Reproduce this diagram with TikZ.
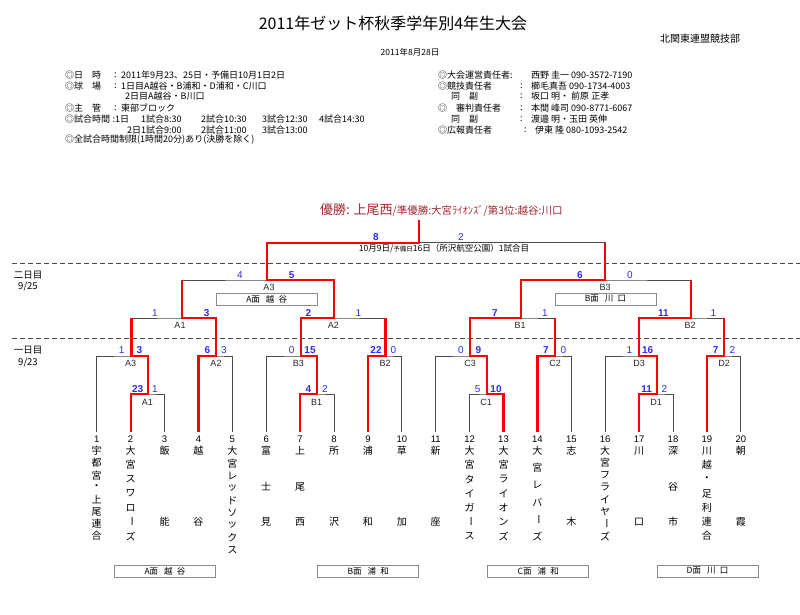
\documentclass[tikz,border=0pt]{standalone}
\usepackage{fontspec}
\setmainfont{Noto Sans CJK JP}
\newfontfamily\lat{Liberation Sans}
\usetikzlibrary{calc}
\definecolor{gl}{HTML}{4A4A4A}
\definecolor{rd}{HTML}{FF0000}
\definecolor{scblue}{HTML}{2B2BFF}
\definecolor{champ}{HTML}{A02830}
\definecolor{boxgray}{HTML}{8A8A8A}
\newcommand\vc{\rotatebox[origin=c]{-90}{ー}}
\newcommand\tname[4]{%
  \foreach \c [count=\k] in {#4} {%
    \pgfmathsetmacro\yy{451+(\k-1)*(#3-451)/(#2-1)}%
    \node[tnm] (n#1-\k) at ({96.7+(#1-1)*33.9},\yy) {\c};
  }}
\tikzset{
  gline/.style={draw=gl, line width=0.9pt},
  rline/.style={draw=rd, line width=2.2pt},
  dline/.style={draw=gl, line width=0.8pt, dash pattern=on 5pt off 3pt},
  score/.style={text=scblue, font=\lat\fontsize{10}{10}\selectfont, inner sep=0pt},
  winsc/.style={text=scblue, font=\lat\bfseries\fontsize{10}{10}\selectfont, inner sep=0pt},
  lbl/.style={font=\lat\fontsize{9}{9}\selectfont, text=black!85, inner sep=0pt},
  venue/.style={draw=boxgray, line width=0.8pt, minimum width=101pt, minimum height=12pt, inner sep=0pt, font=\fontsize{8.5}{8.5}\selectfont},
  tnm/.style={font=\fontsize{10}{10}\selectfont, inner sep=0pt},
  tnum/.style={font=\lat\fontsize{9.5}{9.5}\selectfont, inner sep=0pt},
  info/.style={font=\fontsize{9}{9}\selectfont, anchor=west, inner sep=0pt},
  daylbl/.style={font=\fontsize{9.5}{9.5}\selectfont, inner sep=0pt}
}
\begin{document}
\begin{tikzpicture}[x=1pt,y=-1pt]
\useasboundingbox (0,0) rectangle (800,614);

% ---------- header ----------
\node[font=\fontsize{16}{16}\selectfont, inner sep=0pt] (title) at (393,23) {2011年ゼット杯秋季学年別4年生大会};
\node[font=\fontsize{10}{10}\selectfont, inner sep=0pt] (org) at (700,39) {北関東連盟競技部};
\node[font=\fontsize{8.5}{8.5}\selectfont, inner sep=0pt] (date) at (410,52) {2011年8月28日};

\node[info] (l1a) at (65,75) {◎日　時};
\node[info] (l1b) at (114,75) {:};
\node[info] (l1c) at (121,75) {2011年9月23、25日・予備日10月1日2日};
\node[info] (l2a) at (65,86) {◎球　場};
\node[info] (l2b) at (114,86) {:};
\node[info] (l2c) at (121,86) {1日目A越谷・B浦和・D浦和・C川口};
\node[info] (l3c) at (125,96) {2日目A越谷・B川口};
\node[info] (l4a) at (65,108) {◎主　管};
\node[info] (l4b) at (114,108) {:};
\node[info] (l4c) at (121,108) {東部ブロック};
\node[info] (l5a) at (65,119) {◎試合時間};
\node[info] (l5b) at (112.5,119) {:1日};
\node[info] (l5c) at (141,119) {1試合8:30};
\node[info] (l5d) at (201,119) {2試合10:30};
\node[info] (l5e) at (262,119) {3試合12:30};
\node[info] (l5f) at (319,119) {4試合14:30};
\node[info] (l6b) at (127,130) {2日};
\node[info] (l6c) at (141,130) {1試合9:00};
\node[info] (l6d) at (201,130) {2試合11:00};
\node[info] (l6e) at (262,130) {3試合13:00};
\node[info] (l7a) at (65,140) {◎全試合時間制限(1時間20分)あり(決勝を除く)};

\node[info] (r1a) at (438,75) {◎大会運営責任者:};
\node[info] (r1c) at (531,75) {西野 圭一 090-3572-7190};
\node[info] (r2a) at (438,86) {◎競技責任者};
\node[info] (r2b) at (520,86) {:};
\node[info] (r2c) at (531,86) {櫛毛真吾 090-1734-4003};
\node[info] (r3a) at (451,96) {同　副};
\node[info] (r3b) at (520,96) {:};
\node[info] (r3c) at (531,96) {坂口 明・ 前原 正孝};
\node[info] (r4a) at (438,108) {◎　審判責任者};
\node[info] (r4b) at (520,108) {:};
\node[info] (r4c) at (531,108) {本間 峰司 090-8771-6067};
\node[info] (r5a) at (451,119) {同　副};
\node[info] (r5b) at (520,119) {:};
\node[info] (r5c) at (531,119) {渡邉 明・玉田 英伸};
\node[info] (r6a) at (438,130) {◎広報責任者};
\node[info] (r6b) at (524,130) {:};
\node[info] (r6c) at (535,130) {伊東 隆 080-1093-2542};

% ---------- champion line ----------
\node[anchor=west, inner sep=0pt, text=champ] (champ) at (320,210)
  {{\fontsize{13}{13}\selectfont 優勝: 上尾西}{\fontsize{10.5}{10.5}\selectfont /準優勝:大宮ﾗｲｵﾝｽﾞ/第3位:越谷:川口}};

% ---------- day separators ----------
\coordinate (dA) at (12,263.3); \coordinate (dB) at (800,263.3);
\coordinate (dC) at (12,338.3); \coordinate (dD) at (800,338.3);
\draw[dline] (dA) -- (dB);
\draw[dline] (dC) -- (dD);
\node[daylbl] (day2) at (28,275) {二日目};
\node[daylbl] (day2d) at (28,287) {9/25};
\node[daylbl] (day1) at (28,350) {一日目};
\node[daylbl] (day1d) at (28,363) {9/23};

% ---------- coordinates ----------
\foreach \i in {1,...,20} { \coordinate (t\i) at ({96.7+(\i-1)*33.9},432); }
\coordinate (a1) at (148,394);
\coordinate (b1) at (317,394);
\coordinate (c1) at (487,394);
\coordinate (d1) at (656.7,394);
\coordinate (a3) at (131.5,356);
\coordinate (a2) at (216,356);
\coordinate (b3) at (301,356);
\coordinate (b2) at (385.5,356);
\coordinate (c3) at (470,356);
\coordinate (c2) at (555,356);
\coordinate (d3) at (639.3,356);
\coordinate (d2) at (724,356);
\coordinate (A1) at (182,318);
\coordinate (A2) at (334.3,318);
\coordinate (B1) at (520.7,318);
\coordinate (B2) at (690.7,318);
\coordinate (A3) at (266.7,280);
\coordinate (B3) at (605,280);
\coordinate (F) at (419.3,242.7);
\coordinate (W) at (419.3,220);

% ---------- gray bracket ----------
\draw[gline] (t2) |- (a1) -| (t3);
\draw[gline] (t7) |- (b1) -| (t8);
\draw[gline] (t12) |- (c1) -| (t13);
\draw[gline] (t17) |- (d1) -| (t18);
\draw[gline] (t1) |- (a3) -| (a1);
\draw[gline] (t4) |- (a2) -| (t5);
\draw[gline] (t6) |- (b3) -| (b1);
\draw[gline] (t9) |- (b2) -| (t10);
\draw[gline] (t11) |- (c3) -| (c1);
\draw[gline] (t14) |- (c2) -| (t15);
\draw[gline] (t16) |- (d3) -| (d1);
\draw[gline] (t19) |- (d2) -| (t20);
\draw[gline] (a3) |- (A1) -| (a2);
\draw[gline] (b3) |- (A2) -| (b2);
\draw[gline] (c3) |- (B1) -| (c2);
\draw[gline] (d3) |- (B2) -| (d2);
\draw[gline] (A1) |- (A3) -| (A2);
\draw[gline] (B1) |- (B3) -| (B2);
\draw[gline] (A3) |- (F) -| (B3);

% ---------- red winning paths ----------
\draw[rline] (t2) |- (a1) |- (a3) -- (a3 |- A1);
\draw[rline] (t4) |- (a2) |- (A1) -- (A1 |- A3);
\draw[rline] (t7) |- (b1) |- (b3) |- (A2) |- (A3) |- (F) -- (W);
\draw[rline] (t9) |- (b2) -- (b2 |- A2);
\draw[rline] (t13) |- (c1) |- (c3) |- (B1) |- (B3) -- (B3 |- F);
\draw[rline] (t14) |- (c2) -- (c2 |- B1);
\draw[rline] (t17) |- (d1) |- (d3) |- (B2) -- (B2 |- B3);
\draw[rline] (t19) |- (d2) -- (d2 |- B2);

% ---------- scores ----------
\node[winsc] (sF1) at (376,236.7) {8};
\node[score] (sF2) at (461,236.7) {2};
\node[score] (sA3l) at (240,275) {4};
\node[winsc] (sA3r) at (291.7,275) {5};
\node[winsc] (sB3l) at (580,275) {6};
\node[score] (sB3r) at (630,275) {0};
\node[score] (sA1l) at (155,312.7) {1};
\node[winsc] (sA1r) at (206.7,312.7) {3};
\node[winsc] (sA2l) at (308.3,312.7) {2};
\node[score] (sA2r) at (358.3,312.7) {1};
\node[winsc] (sB1l) at (495,312.7) {7};
\node[score] (sB1r) at (545,312.7) {1};
\node[winsc] (sB2l) at (663.3,312.7) {11};
\node[score] (sB2r) at (713.3,312.7) {1};
\node[score] (s2a3l) at (121.7,350) {1};
\node[winsc] (s2a3r) at (139.3,350) {3};
\node[winsc] (s2a2l) at (207.3,350) {6};
\node[score] (s2a2r) at (224,350) {3};
\node[score] (s2b3l) at (291.7,350) {0};
\node[winsc] (s2b3r) at (310,350) {15};
\node[winsc] (s2b2l) at (376,350) {22};
\node[score] (s2b2r) at (393.3,350) {0};
\node[score] (s2c3l) at (461,350) {0};
\node[winsc] (s2c3r) at (478.3,350) {9};
\node[winsc] (s2c2l) at (546,350) {7};
\node[score] (s2c2r) at (563.3,350) {0};
\node[score] (s2d3l) at (629.3,350) {1};
\node[winsc] (s2d3r) at (647.7,350) {16};
\node[winsc] (s2d2l) at (715.7,350) {7};
\node[score] (s2d2r) at (732.3,350) {2};
\node[winsc] (s1a1l) at (137.7,389) {23};
\node[score] (s1a1r) at (155,389) {1};
\node[winsc] (s1b1l) at (308.3,389) {4};
\node[score] (s1b1r) at (325,389) {2};
\node[score] (s1c1l) at (477.7,389) {5};
\node[winsc] (s1c1r) at (496,389) {10};
\node[winsc] (s1d1l) at (646.7,389) {11};
\node[score] (s1d1r) at (664.3,389) {2};

% ---------- game labels ----------
\node[inner sep=0pt, font=\fontsize{8.5}{8.5}\selectfont] (finlbl) at (444,249)
  {10月9日/{\fontsize{6.5}{6.5}\selectfont 予備日}16日（所沢航空公園）1試合目};
\node[lbl] (gA3) at (269,287.3) {A3};
\node[lbl] (gB3) at (605,287.3) {B3};
\node[lbl] (gA1) at (180,325.7) {A1};
\node[lbl] (gA2) at (333.3,325.7) {A2};
\node[lbl] (gB1) at (520,325.7) {B1};
\node[lbl] (gB2) at (690,325.7) {B2};
\node[lbl] (ga3) at (130.7,363) {A3};
\node[lbl] (ga2) at (216,363) {A2};
\node[lbl] (gb3) at (298.3,363) {B3};
\node[lbl] (gb2) at (385,363) {B2};
\node[lbl] (gc3) at (470,363) {C3};
\node[lbl] (gc2) at (555,363) {C2};
\node[lbl] (gd3) at (639,363) {D3};
\node[lbl] (gd2) at (724,363) {D2};
\node[lbl] (ga1) at (147.3,402) {A1};
\node[lbl] (gb1) at (316.7,402) {B1};
\node[lbl] (gc1) at (486,402) {C1};
\node[lbl] (gd1) at (656,402) {D1};

% ---------- venue boxes ----------
\node[venue] (vmA) at (266.7,299) {A面\hspace{0.7em}越\hspace{0.5em}谷};
\node[venue] (vmB) at (605.5,299) {B面\hspace{0.7em}川\hspace{0.5em}口};
\node[venue] (vA) at (165,571) {A面\hspace{0.7em}越\hspace{0.5em}谷};
\node[venue] (vB) at (368.3,571) {B面\hspace{0.7em}浦\hspace{0.5em}和};
\node[venue] (vC) at (538.3,571) {C面\hspace{0.7em}浦\hspace{0.5em}和};
\node[venue] (vD) at (707.5,571) {D面\hspace{0.7em}川\hspace{0.5em}口};

% ---------- team numbers ----------
\foreach \i in {1,...,20} { \node[tnum] (num\i) at ($(t\i)+(0,7)$) {\i}; }

% ---------- team names ----------
\tname{1}{8}{536}{宇,都,宮,・,上,尾,連,合}
\tname{2}{7}{536}{大,宮,ス,ワ,ロ,\vc,ズ}
\tname{3}{2}{522}{飯,能}
\tname{4}{2}{522}{越,谷}
\tname{5}{9}{550}{大,宮,レ,ッ,ド,ソ,ッ,ク,ス}
\tname{6}{3}{522}{富,士,見}
\tname{7}{3}{522}{上,尾,西}
\tname{8}{2}{522}{所,沢}
\tname{9}{2}{522}{浦,和}
\tname{10}{2}{522}{草,加}
\tname{11}{2}{522}{新,座}
\tname{12}{7}{536}{大,宮,タ,イ,ガ,\vc,ス}
\tname{13}{7}{536}{大,宮,ラ,イ,オ,ン,ズ}
\tname{14}{6}{536}{大,宮,レ,バ,\vc,ズ}
\tname{15}{2}{522}{志,木}
\tname{16}{8}{536}{大,宮,フ,ラ,イ,ヤ,\vc,ズ}
\tname{17}{2}{522}{川,口}
\tname{18}{3}{522}{深,谷,市}
\tname{19}{7}{536}{川,越,・,足,利,連,合}
\tname{20}{2}{522}{朝,霞}
\end{tikzpicture}
\end{document}
